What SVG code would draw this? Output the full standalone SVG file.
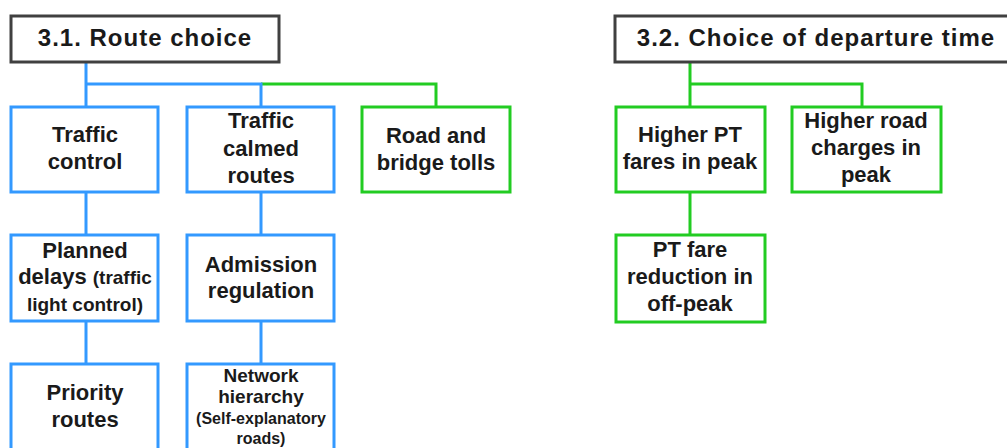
<svg xmlns="http://www.w3.org/2000/svg" width="1007" height="448" viewBox="0 0 1007 448">
<style>
text{font-family:"Liberation Sans",Arial,sans-serif;font-weight:bold;fill:#1a1a1a;text-anchor:middle}
.t{font-size:24px;letter-spacing:1px}
.n{font-size:22px}
.s{font-size:19px}
.xs{font-size:16px}
rect{fill:#fff;stroke-width:3}
.title{stroke:#404040}
.b{stroke:#3399ff}
.g{stroke:#22cc22}
.cb{stroke:#3399ff;stroke-width:3;fill:none}
.cg{stroke:#22cc22;stroke-width:3;fill:none}
</style>
<rect width="1007" height="448" style="fill:#fff;stroke:none"/>
<g id="connectors">
<path class="cg" d="M261 84H436V107"/>
<path class="cb" d="M86 62V107M86 84H261V107M86 192V235M86 321V364M261 192V235M261 321V364"/>
<path class="cg" d="M690 62V107M690 84H862V107M690 192V235"/>
</g>
<g id="title1"><rect class="title" x="11" y="16" width="268" height="46"/><text class="t" x="145" y="46">3.1. Route choice</text></g>
<g id="title2"><rect class="title" x="615" y="16" width="400" height="46"/><text class="t" x="816" y="46">3.2. Choice of departure time</text></g>
<g id="traffic-control"><rect class="b" x="11" y="107" width="147" height="85"/><text class="n" x="85" y="142">Traffic</text><text class="n" x="85" y="169">control</text></g>
<g id="traffic-calmed"><rect class="b" x="187" y="107" width="147" height="85"/><text class="n" x="261" y="128">Traffic</text><text class="n" x="261" y="156">calmed</text><text class="n" x="261" y="183">routes</text></g>
<g id="tolls"><rect class="g" x="362" y="107" width="148" height="85"/><text class="n" x="436" y="143">Road and</text><text class="n" x="436" y="170">bridge tolls</text></g>
<g id="planned-delays"><rect class="b" x="11" y="235" width="147" height="86"/><text class="n" x="85" y="258">Planned</text><text x="85" y="284"><tspan class="n">delays </tspan><tspan class="s">(traffic</tspan></text><text class="s" x="85" y="311">light control)</text></g>
<g id="admission"><rect class="b" x="187" y="235" width="147" height="86"/><text class="n" x="261" y="272">Admission</text><text class="n" x="261" y="298">regulation</text></g>
<g id="priority"><rect class="b" x="11" y="364" width="147" height="86"/><text class="n" x="85" y="400">Priority</text><text class="n" x="85" y="427">routes</text></g>
<g id="network"><rect class="b" x="187" y="364" width="147" height="86"/><text class="s" x="261" y="382">Network</text><text class="s" x="261" y="403">hierarchy</text><text class="xs" x="261" y="424">(Self-explanatory</text><text class="xs" x="261" y="444">roads)</text></g>
<g id="higher-pt"><rect class="g" x="616" y="107" width="149" height="85"/><text class="n" x="690" y="142">Higher PT</text><text class="n" x="690" y="169">fares in peak</text></g>
<g id="higher-road"><rect class="g" x="792" y="107" width="149" height="85"/><text class="n" x="866" y="128">Higher road</text><text class="n" x="866" y="155">charges in</text><text class="n" x="866" y="182">peak</text></g>
<g id="pt-reduction"><rect class="g" x="616" y="235" width="149" height="87"/><text class="n" x="690" y="257">PT fare</text><text class="n" x="690" y="284">reduction in</text><text class="n" x="690" y="311">off-peak</text></g>
</svg>
